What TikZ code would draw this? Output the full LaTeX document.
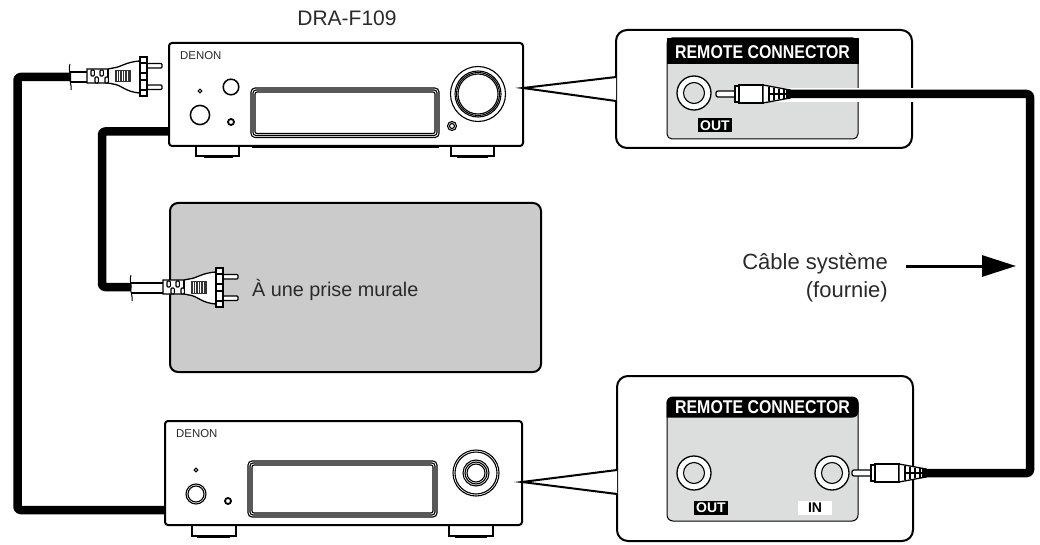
\documentclass[tikz,border=0pt]{standalone}
\usepackage{fontspec}
\usepackage{graphicx}
\setmainfont{Liberation Sans}
\usetikzlibrary{arrows.meta}
\definecolor{panelgrey}{HTML}{DCDDDD}
\definecolor{wallgrey}{HTML}{CBCBCB}
\definecolor{inkgrey}{HTML}{2A2A2A}
\tikzset{
  x=1pt,y=-1pt,
  frame/.style={draw=black,line width=2pt,inner sep=0pt,outer sep=0pt,fill=white},
  amp/.style={frame,rounded corners=3pt},
  bubble/.style={frame,rounded corners=11pt},
  foot line/.style={draw=black,line width=1.6pt,fill=white},
  fine ring/.style={line width=1.1pt},
  cable/.style={draw=black,line width=8.5pt,rounded corners=3pt,line join=round},
  halo/.style={draw=white,line width=14pt},
  label text/.style={font=\fontsize{21}{24}\selectfont,text=inkgrey,inner sep=0pt},
  wall text/.style={font=\fontsize{19.8}{24}\selectfont,text=inkgrey,inner sep=0pt},
  side text/.style={font=\fontsize{22}{24}\selectfont,text=inkgrey,inner sep=0pt},
  brand/.style={font=\fontsize{11.4}{12}\selectfont,text=inkgrey,inner sep=0pt},
  header text/.style={font=\fontsize{18.5}{20}\selectfont\bfseries,text=white,inner sep=0pt},
  tag/.style={font=\fontsize{14}{15}\selectfont\bfseries,inner sep=0pt,minimum width=34pt,minimum height=14pt},
  pics/plugbody/.style={code={
    % flex cable edges and torn end
    \draw[line width=1.2pt] (-#1,-5) -- (0,-5) (-#1,5) -- (0,5);
    \draw[line width=1pt] (-#1,-13) .. controls (-#1-2,-6) and (-#1+1,-3) .. (-#1,0) .. controls (-#1-1,4) and (-#1+2,8) .. (-#1+1,13);
    % moulded body
    \draw[fill=white,line width=1.3pt] (0,-8) -- (21,-8) -- (26,-9) .. controls (35,-10) and (38,-15) .. (53,-16)
       -- (53,16) .. controls (38,15) and (35,8) .. (26,7) -- (21,6) -- (0,6) -- cycle;
    \draw[line width=1.3pt] (21,-8) -- (21,6);
    \foreach \sx/\sy in {4/-7,13/-7,8/0,18/0}{
      \draw[fill=white,line width=1.1pt,rounded corners=1pt] (\sx,\sy) rectangle ++(3.4,6);}
    % grip
    \fill[black!80] (28,-7) rectangle (44,5.5);
    \foreach \gx in {30,32.6,35.2,37.8,40.4}{\draw[white,line width=.8pt] (\gx,-6) -- (\gx,4.5);}
    % blades
    \draw[fill=white,line width=1.3pt,rounded corners=1pt] (60,-13.5) rectangle (75,-9);
    \draw[fill=white,line width=1.3pt,rounded corners=1pt] (60,8) rectangle (75,12.5);
    % flange
    \draw[fill=white,line width=1.5pt] (53,-20) rectangle (60,19);
    \draw[line width=1.1pt] (53,-14) -- (60,-14) (53,-4) -- (60,-4) (53,3) -- (60,3) (53,13) -- (60,13);
  }},
  pics/rcaplug/.style={code={
    % pin
    \draw[fill=white,line width=1.3pt,rounded corners=2pt] (0,-3) rectangle (20,3);
    % collar
    \draw[fill=white,line width=1.3pt] (19,-8) rectangle (23,8);
    % barrel
    \draw[fill=white,line width=1.5pt] (23,-9) -- (47,-9) -- (47,9) -- (23,9) -- cycle;
    % strain relief
    \draw[fill=white,line width=1.3pt] (47,-9) -- (74,-4) -- (74,4) -- (47,9) -- cycle;
    \fill[black] (53,-1.3) rectangle (74,1.3);
    \foreach \rx/\rh in {53/7.4,58/6.4,63/5.4,68/4.6}{\draw[line width=1.4pt] (\rx,-\rh) -- (\rx,\rh);}
    \fill[black] (70,-4.4) -- (75,-4) -- (75,4) -- (70,4.4) -- cycle;
  }},
  pics/jack/.style={code={
    \draw[fill=white,line width=1.3pt] (0,0) circle[radius=17pt];
    \draw[fill=panelgrey,line width=1.1pt] (0,0) circle[radius=10.5pt];
  }},
}
\begin{document}
\begin{tikzpicture}
\useasboundingbox (0,0) rectangle (1040,545);
\fill[white] (0,0) rectangle (1040,545);

% ---------- feet (behind the amps)
\draw[foot line] (196,146) -- (196,156) -- (239,156) -- (239,146);
\fill (204,155) rectangle (233,158);
\draw[foot line] (451,146) -- (451,156) -- (494,156) -- (494,146);
\fill (457,155) rectangle (488,158);
\draw[foot line] (192,525) -- (192,536) -- (236,536) -- (236,525);
\fill (197,535) rectangle (230,538);
\draw[foot line] (449,525) -- (449,536) -- (493,536) -- (493,525);
\fill (455,535) rectangle (487,538);

% ---------- amplifier nodes
\node[amp,minimum width=354pt,minimum height=103pt] (ampA) at (346,94.5) {};
\node[amp,minimum width=357pt,minimum height=104pt] (ampB) at (343.5,473) {};

% ---------- wall plate
\node[frame,fill=wallgrey,rounded corners=8pt,minimum width=371pt,minimum height=169pt] (wall) at (355.5,287.5) {};

% ---------- title + labels
\node[label text] (title) at (347,18) {DRA-F109};
\node[wall text,anchor=west] (walltext) at (252,289.5) {À une prise murale};
\node[side text,anchor=east] (cabletext) at (888,264) {Câble système};
\node[side text,anchor=east] (suppliedtext) at (888,292) {(fournie)};

% ---------- front panel A
\node[brand,anchor=west] (brandA) at (180,56) {DENON};
\draw[fine ring] (200,91) circle[radius=1.8pt];
\draw[line width=1.5pt] (231,87) circle[radius=7.8pt];
\draw[line width=1.5pt] (200,115) circle[radius=9.6pt];
\draw[line width=1.8pt] (231,122) circle[radius=3pt];
\draw[fine ring,rounded corners=4pt] (251,88) rectangle (439,137.5);
\draw[fine ring,rounded corners=3pt] (253,90) rectangle (437,135.5);
\draw[fine ring,rounded corners=2pt] (255,92) rectangle (435,133.5);
\draw[line width=2.5pt] (252,146.5) -- (439,146.5);
\draw[fine ring] (478,94) circle[radius=27.5pt];
\draw[fine ring] (478,94) circle[radius=23pt];
\draw[fine ring] (478,94) circle[radius=21.5pt];
\draw[fine ring] (478,94) circle[radius=20pt];
\draw[fine ring] (452,126) circle[radius=4.5pt];
\draw[fine ring] (452,126) circle[radius=2.5pt];

% ---------- front panel B
\node[brand,anchor=west] (brandB) at (176,434) {DENON};
\draw[fine ring] (196,470) circle[radius=1.8pt];
\draw[fine ring] (196,494) circle[radius=10pt];
\draw[fine ring] (196,494) circle[radius=8pt];
\draw[line width=1.8pt] (228,501) circle[radius=3pt];
\draw[fine ring,rounded corners=4pt] (248,461) rectangle (437,517);
\draw[fine ring,rounded corners=3pt] (250,463) rectangle (435,515);
\draw[fine ring,rounded corners=2pt] (252,465) rectangle (433,513);
\draw[fine ring] (476,473) circle[radius=23pt];
\draw[fine ring] (476,473) circle[radius=21pt];
\draw[fine ring] (476,473) circle[radius=13pt];
\draw[fine ring] (476,473) circle[radius=11pt];
\draw[fine ring] (476,473) circle[radius=9pt];

% ---------- call-out A
\node[bubble,minimum width=296pt,minimum height=118pt] (bubA) at (764,89) {};
\coordinate (tipA) at (523,88);
\coordinate (upA) at (616,77);
\coordinate (loA) at (616,101);
\fill[white] (upA) -- (tipA) -- (loA) -- cycle;
\draw[line width=2pt,line join=miter] (upA) -- (tipA) -- (loA);
\node[draw=black,line width=1pt,fill=panelgrey,rounded corners=5pt,inner sep=0pt,minimum width=191pt,minimum height=101pt] (panelA) at (762.5,88.5) {};
\fill[black] (666.5,38) rectangle (858.5,64);
\node[header text] (headA) at (762.5,52) {\scalebox{.86}[1]{REMOTE CONNECTOR}};
\pic at (694,93) {jack};
\node[tag,fill=black,text=white] (outA) at (715,125.5) {OUT};

% ---------- call-out B
\node[bubble,minimum width=296pt,minimum height=165pt] (bubB) at (765,458.5) {};
\coordinate (tipB) at (522,482);
\coordinate (upB) at (617,470);
\coordinate (loB) at (617,494);
\fill[white] (upB) -- (tipB) -- (loB) -- cycle;
\draw[line width=2pt,line join=miter] (upB) -- (tipB) -- (loB);
\node[draw=black,line width=1pt,fill=panelgrey,rounded corners=6pt,inner sep=0pt,minimum width=191pt,minimum height=124pt] (panelB) at (762.5,459) {};
\fill[black,rounded corners=6pt] (666.5,417.5) -- (666.5,397) -- (858.5,397) -- (858.5,417.5) [sharp corners] -- cycle;
\node[header text] (headB) at (762.5,407) {\scalebox{.86}[1]{REMOTE CONNECTOR}};
\pic at (694,473) {jack};
\pic at (832,473) {jack};
\node[tag,fill=black,text=white] (outB) at (711,508) {OUT};
\node[tag,fill=white,text=black] (inB) at (815,508) {IN};

% ---------- named cable ends
\coordinate (mainsA) at (71,77);
\coordinate (mainsB) at (131,287);
\coordinate (ampAin) at (ampA.west |- 0,131.5);
\coordinate (ampBin) at (ampB.west |- 0,510);
\coordinate (rcaA) at (788,94);
\coordinate (rcaB) at (923,473);
\coordinate (haloA) at (765,95);
\coordinate (haloAend) at (925,95);
\coordinate (haloB) at (880,473);
\coordinate (haloBend) at (925,473);
\coordinate (riserTop) at (1030,94);
\coordinate (riserBot) at (1030,473);

% ---------- white halos over the frames
\draw[halo] (haloA) -- (haloAend);
\draw[halo] (haloB) -- (haloBend);

% ---------- cables
\draw[cable] (mainsA) -- (17.5,77) -- (17.5,510) -- (ampBin);
\draw[cable] (ampAin) -- (102,131.5) -- (102,287) -- (mainsB);
\draw[cable] (rcaA) -- (riserTop) -- (riserBot) -- (rcaB);

% ---------- plugs
\pic at (87,77) {plugbody=17};
\pic at (163,288) {plugbody=32};
\pic at (716,94) {rcaplug};
\pic at (852,473) {rcaplug};

% ---------- cable pointer
\coordinate (arrowFrom) at (906,266);
\coordinate (arrowTo) at (1016,266);
\draw[line width=3pt,-{Triangle[length=34pt,width=21pt]}] (arrowFrom) -- (arrowTo);
\end{tikzpicture}
\end{document}
